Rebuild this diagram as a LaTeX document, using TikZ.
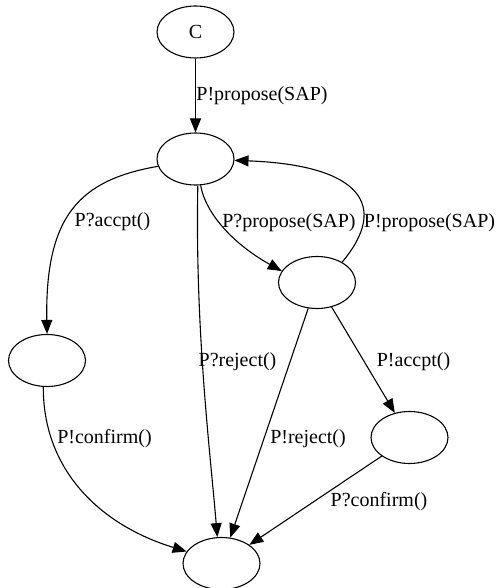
\documentclass[tikz,border=0pt]{standalone}
\usepackage{fontspec}
\setmainfont{Liberation Serif}
\usetikzlibrary{shapes.geometric,arrows.meta}
\begin{document}
\begin{tikzpicture}[x=1pt,y=-1pt,
  state/.style={ellipse,draw,line width=1.1pt,minimum width=77pt,minimum height=52pt,inner sep=0pt,font=\fontsize{20}{24}\selectfont},
  edge/.style={draw,line width=1.1pt,-{Triangle[length=14pt,width=11pt]}},
  lbl/.style={anchor=base,inner sep=0pt,font=\fontsize{20}{24}\selectfont}]
\useasboundingbox (0,0) rectangle (500,588);

% states
\node[state] (c)  at (195.5,32)  {C};
\node[state] (s1) at (195.5,159) {};
\node[state] (s2) at (317,282.5) {};
\node[state] (s3) at (47,360.5)  {};
\node[state] (s4) at (409.5,437.5) {};
\node[state] (s5) at (221.5,563.5) {};

% transitions
\draw[edge] (c) -- (s1);
\draw[edge] (s1.191) .. controls (80,180) and (45,215) .. (s3.north);
\draw[edge] (s1.275) .. controls (195,330) and (210,450) .. (s5.99);
\draw[edge] (s1.281) .. controls (206,215) and (235,245) .. (s2.162);
\draw[edge] (s2.39) .. controls (390,205) and (360,165) .. (s1.358);
\draw[edge] (s2) -- (s5);
\draw[edge] (s2) -- (s4);
\draw[edge] (s3.262) .. controls (43,470) and (100,525) .. (s5.161);
\draw[edge] (s4) -- (s5);

% transition labels
\node[lbl] (t0) at (262,101)   {P!propose(SAP)};
\node[lbl] (t1) at (112.5,226) {P?accpt()};
\node[lbl] (t2) at (289,227)   {P?propose(SAP)};
\node[lbl] (t3) at (429.5,227) {P!propose(SAP)};
\node[lbl] (t4) at (237.5,366) {P?reject()};
\node[lbl] (t5) at (413.5,366) {P!accpt()};
\node[lbl] (t6) at (104.5,443) {P!confirm()};
\node[lbl] (t7) at (308,443)   {P!reject()};
\node[lbl] (t8) at (379,506)   {P?confirm()};
\end{tikzpicture}
\end{document}
